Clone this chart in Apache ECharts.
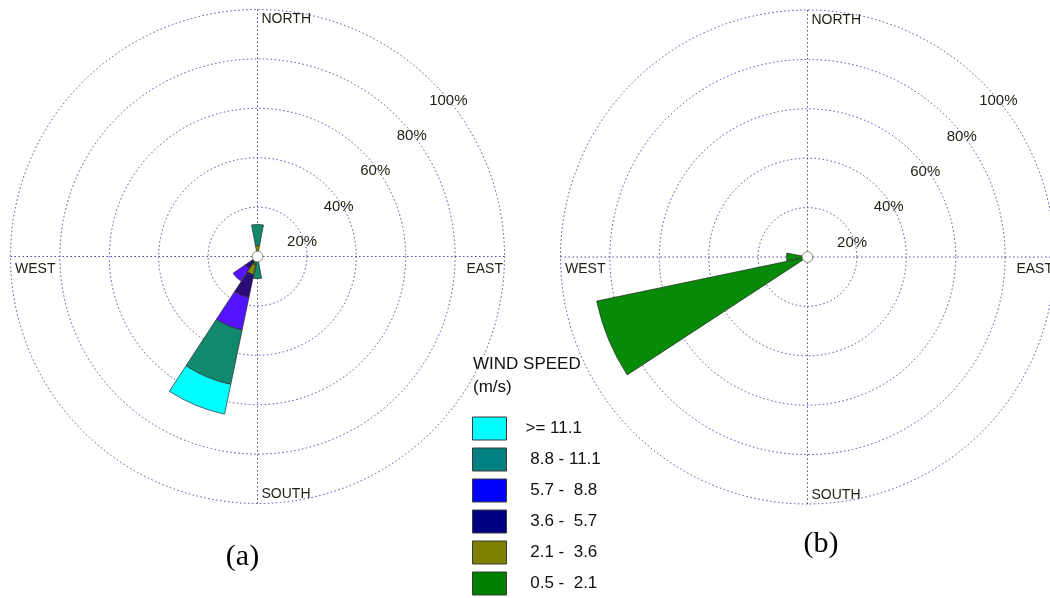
<!DOCTYPE html>
<html>
<head>
<meta charset="utf-8">
<script src="https://cdn.jsdelivr.net/npm/echarts@6/dist/echarts.min.js"></script>
<style>
html,body{margin:0;padding:0;background:#ffffff;}
#chart{width:1050px;height:598px;}
</style>
</head>
<body>
<div id="chart"></div>
<script>
// ---- categories ----
const directions = ['N','NNE','NE','ENE','E','ESE','SE','SSE','S','SSW','SW','WSW','W','WNW','NW','NNW'];
// wind-speed classes, inner (slowest) to outer (fastest)
const speedClasses = [' 0.5 -  2.1', ' 2.1 -  3.6', ' 3.6 -  5.7', ' 5.7 -  8.8', ' 8.8 - 11.1', '>= 11.1'];

// ---- rose (a): frequency (%) of each class per direction ----
const roseA_05_21  = [0,0,0,0,0,0,0,0,0,3.5,0,0,0,0,0,0];
const roseA_21_36  = [4.5,0,0,0,0,0,0,0,0,4.0,0,0,0,0,0,0];
const roseA_36_57  = [0,0,0,0,0,0,0,0,0,9.5,6.0,0,0,0,0,0];
const roseA_57_88  = [0,0,0,0,0,0,0,0,0,13.4,6.0,0,0,0,0,0];
const roseA_88_111 = [8.5,0,0,0,0,0,0,0,9.0,22.5,0,0,0,0,0,0];
const roseA_111up  = [0,0,0,0,0,0,0,0,0,12.3,0,0,0,0,0,0];

// ---- rose (b) ----
const roseB_05_21  = [0,0,0,0,0,0,0,0,0,0,0,87.2,8.5,0,0,0];
const roseB_21_36  = [0,0,0,0,0,0,0,0,0,0,0,0,0,0,0,0];
const roseB_36_57  = [0,0,0,0,0,0,0,0,0,0,0,0,0,0,0,0];
const roseB_57_88  = [0,0,0,0,0,0,0,0,0,0,0,0,0,0,0,0];
const roseB_88_111 = [0,0,0,0,0,0,0,0,0,0,0,0,0,0,0,0];
const roseB_111up  = [0,0,0,0,0,0,0,0,0,0,0,0,0,0,0,0];

// ---- tick labels / texts ----
const ringTicks = [0, 20, 40, 60, 80, 100];
const compassLabels = ['NORTH', 'EAST', 'SOUTH', 'WEST'];
const panelLabels = ['(a)', '(b)'];
const legendTitle = ['WIND SPEED', '(m/s)'];

// ---- styles ----
const petalColors  = ['#078a07', '#878700', '#2b0b78', '#5514ff', '#10896f', '#00ffff'];
const legendColors = ['#008000', '#808000', '#000080', '#0000ff', '#008080', '#00ffff'];
const gridColor = '#5e40a8';
const SANS = '"Liberation Sans", Arial, sans-serif';
const SERIF = '"Liberation Serif", "Times New Roman", serif';

const R = 247;
const centers = [[257.5, 256.5], [807.5, 257]];
const labelOffset = [8, 20.8];
const labelRadius = 254.2;

const roseA = [roseA_05_21, roseA_21_36, roseA_36_57, roseA_57_88, roseA_88_111, roseA_111up];
const roseB = [roseB_05_21, roseB_21_36, roseB_36_57, roseB_57_88, roseB_88_111, roseB_111up];

const polar = [], angleAxis = [], radiusAxis = [], series = [], graphic = [];
const hidden = {axisLine:{show:false}, axisTick:{show:false}, axisLabel:{show:false}, splitLine:{show:false}};
const dotted = {color: gridColor, width: 1, type: [1.5, 2.5]};

[roseA, roseB].forEach((rose, k) => {
  const [cx, cy] = centers[k];
  const base = k * 3;
  // bars polar
  polar.push({center: [cx, cy], radius: R});
  angleAxis.push(Object.assign({polarIndex: base, type: 'category', data: directions, startAngle: 90 + 360 / directions.length / 2, clockwise: true}, hidden));
  radiusAxis.push(Object.assign({polarIndex: base, type: 'value', min: 0, max: 100}, hidden));
  // grid polar
  polar.push({center: [cx, cy], radius: R});
  angleAxis.push({polarIndex: base + 1, type: 'value', min: 0, max: 360, interval: 90, startAngle: 90,
    axisLine: {show: false}, axisTick: {show: false}, axisLabel: {show: false},
    splitLine: {show: true, lineStyle: dotted}});
  radiusAxis.push({polarIndex: base + 1, type: 'value', min: 0, max: 100, interval: 20,
    axisLine: {show: false}, axisTick: {show: false}, axisLabel: {show: false},
    splitLine: {show: true, lineStyle: dotted}});
  // percentage label polar
  polar.push({center: [cx + labelOffset[0], cy + labelOffset[1]], radius: labelRadius});
  angleAxis.push(Object.assign({polarIndex: base + 2, type: 'value', min: 0, max: 360, startAngle: 44}, hidden));
  radiusAxis.push({polarIndex: base + 2, type: 'value', min: ringTicks[0], max: ringTicks[ringTicks.length - 1], interval: 20,
    axisLine: {show: false}, axisTick: {show: false}, splitLine: {show: false},
    axisLabel: {show: true, margin: 0, align: 'center', verticalAlign: 'middle', fontSize: 15, fontFamily: SANS, color: '#1f1f14',
      formatter: v => (v === 0 ? '' : v + '%')}});

  rose.forEach((vals, i) => {
    series.push({
      type: 'bar', coordinateSystem: 'polar', polarIndex: base, name: speedClasses[i], stack: 'rose' + k,
      data: vals.map(v => (v === 0 ? null : v)),
      barCategoryGap: '5%',
      itemStyle: {color: petalColors[i], borderColor: '#2a2a2a', borderWidth: 0.7},
      silent: true, animation: false
    });
  });

  // calm circle
  graphic.push({type: 'circle', z: 100, shape: {cx: cx, cy: cy, r: 5.3}, style: {fill: '#ffffff', stroke: '#8e8e72', lineWidth: 1}});
  // compass labels
  const cstyle = {fontSize: 14, fontFamily: SANS, fill: '#1f1f14', verticalAlign: 'middle'};
  graphic.push({type: 'text', z: 100, x: cx + 4, y: cy - R + 10, style: Object.assign({text: compassLabels[0], align: 'left'}, cstyle)});
  graphic.push({type: 'text', z: 100, x: cx + R - 1.5, y: cy + 12.5, style: Object.assign({text: compassLabels[1], align: 'right'}, cstyle)});
  graphic.push({type: 'text', z: 100, x: cx + 4, y: cy + R - 9, style: Object.assign({text: compassLabels[2], align: 'left'}, cstyle)});
  graphic.push({type: 'text', z: 100, x: cx - R + 4.5, y: cy + 12.5, style: Object.assign({text: compassLabels[3], align: 'left'}, cstyle)});
});

// panel labels
graphic.push({type: 'text', x: 242.5, y: 557.5, style: {text: panelLabels[0], fontSize: 30, fontFamily: SERIF, fill: '#000', align: 'center', verticalAlign: 'middle'}});
graphic.push({type: 'text', x: 821, y: 544, style: {text: panelLabels[1], fontSize: 30, fontFamily: SERIF, fill: '#000', align: 'center', verticalAlign: 'middle'}});
// legend title
graphic.push({type: 'text', x: 473, y: 364, style: {text: legendTitle[0], fontSize: 17, fontFamily: SANS, fill: '#111', align: 'left', verticalAlign: 'middle'}});
graphic.push({type: 'text', x: 473, y: 387.5, style: {text: legendTitle[1], fontSize: 17, fontFamily: SANS, fill: '#111', align: 'left', verticalAlign: 'middle'}});

const legendOrder = [5, 4, 3, 2, 1, 0];

const chart = echarts.init(document.getElementById('chart'), null, {renderer: 'canvas'});
chart.setOption({
  backgroundColor: '#ffffff',
  animation: false,
  polar: polar,
  angleAxis: angleAxis,
  radiusAxis: radiusAxis,
  legend: {
    orient: 'vertical', left: 472, top: 416.5, width: 200, height: 260, padding: 0,
    itemWidth: 34, itemHeight: 23, itemGap: 7, icon: 'rect', selectedMode: false,
    data: legendOrder.map(i => ({name: speedClasses[i], itemStyle: {color: legendColors[i], borderColor: '#3a3a3a', borderWidth: 1}})),
    textStyle: {fontSize: 17, fontFamily: SANS, color: '#111', padding: [0, 0, 0, 14]}
  },
  series: series,
  graphic: graphic
});
</script>
</body>
</html>
